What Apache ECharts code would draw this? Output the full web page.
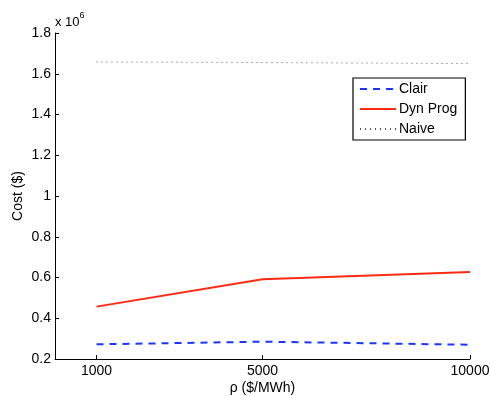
<!DOCTYPE html>
<html>
<head>
<meta charset="utf-8">
<script src="https://cdn.jsdelivr.net/npm/echarts@6/dist/echarts.min.js"></script>
<style>
  html, body { margin: 0; padding: 0; background: #fff; }
  #chart { width: 490px; height: 396px; }
</style>
</head>
<body>
<div id="chart"></div>
<script>
// x values (rho, $/MWh) and costs in units of 10^6 $
const rho = [1000, 5000, 10000];
const clair = [0.272, 0.285, 0.270];
const dynProg = [0.457, 0.591, 0.627];
const naive = [1.658, 1.655, 1.650];

const pair = (arr) => rho.map((x, i) => [x, arr[i]]);
const font = 'Liberation Sans, Arial, Helvetica, sans-serif';

let myChart = echarts.init(document.getElementById('chart'));

let option = {
    animation: false,
    textStyle: { fontFamily: font },
    grid: { left: 55, right: 20, top: 33, bottom: 37, outerBoundsMode: 'none', containLabel: false },
    legend: {
        orient: 'vertical',
        left: 353, top: 78,
        width: 112,
        padding: [4, 8, 4, 6],
        itemGap: 6,
        itemWidth: 36, itemHeight: 14,
        itemStyle: { opacity: 0 },
        borderColor: '#000', borderWidth: 1.2,
        textStyle: { fontSize: 14, color: '#000', fontFamily: font, padding: [0, 0, 0, -2] },
        data: ['Clair', 'Dyn Prog', 'Naive']
    },
    xAxis: {
        type: 'value',
        min: 0, max: 10000,
        name: 'ρ ($/MWh)',
        nameLocation: 'middle',
        nameGap: 22,
        nameMoveOverlap: false,
        nameTextStyle: { fontSize: 14, color: '#000' },
        splitLine: { show: false },
        axisLine: { lineStyle: { color: '#000' } },
        axisTick: { inside: true, length: 4, customValues: rho, lineStyle: { color: '#000' } },
        axisLabel: { customValues: rho, fontSize: 14, color: '#000', margin: 5,
            formatter: v => String(v) }
    },
    yAxis: {
        type: 'value',
        min: 0.2, max: 1.8, interval: 0.2,
        name: 'Cost ($)',
        nameLocation: 'middle',
        nameGap: 30,
        nameMoveOverlap: false,
        nameTextStyle: { fontSize: 14, color: '#000' },
        splitLine: { show: false },
        axisLine: { show: true, lineStyle: { color: '#000' } },
        axisTick: { show: true, inside: true, length: 4, lineStyle: { color: '#000' } },
        axisLabel: { fontSize: 14, color: '#000', margin: 4,
            formatter: v => String(parseFloat(v.toFixed(1))) }
    },
    graphic: [{
        type: 'text',
        left: 55, top: 11,
        style: {
            text: '{b|x 10}{s|6}',
            rich: {
                b: { fontSize: 13, fontFamily: font, fill: '#000', verticalAlign: 'bottom', lineHeight: 18 },
                s: { fontSize: 9, fontFamily: font, fill: '#000', verticalAlign: 'top', lineHeight: 18, padding: [0, 0, 8, 0] }
            }
        }
    }],
    series: [
        {
            name: 'Clair', type: 'line', data: pair(clair),
            symbol: 'none',
            lineStyle: { color: '#1a35ff', width: 2, type: [7, 6] },
            itemStyle: { color: '#1a35ff' }
        },
        {
            name: 'Dyn Prog', type: 'line', data: pair(dynProg),
            symbol: 'none',
            lineStyle: { color: '#ff2a10', width: 2 },
            itemStyle: { color: '#ff2a10' }
        },
        {
            name: 'Naive', type: 'line', data: pair(naive),
            symbol: 'none',
            lineStyle: { color: '#555', width: 1, type: [1, 4] },
            itemStyle: { color: '#555' }
        }
    ]
};

myChart.setOption(option);
</script>
</body>
</html>
